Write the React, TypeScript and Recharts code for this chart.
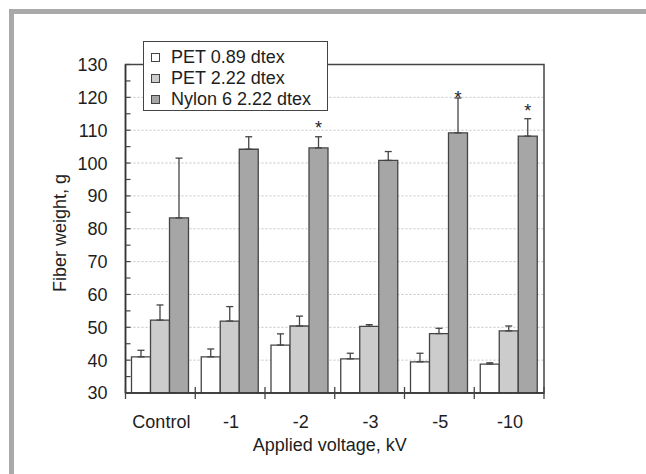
import React from 'react';
import { BarChart, Bar, XAxis, YAxis, CartesianGrid, ErrorBar, Legend, LabelList, ReferenceArea, Label } from 'recharts';

const categories = ['Control', '-1', '-2', '-3', '-5', '-10'];
const pet089 = [41.0, 41.0, 44.6, 40.4, 39.5, 38.8];
const pet089Err = [2.0, 2.4, 3.4, 1.7, 2.6, 0.4];
const pet222 = [52.2, 51.9, 50.4, 50.3, 48.1, 48.9];
const pet222Err = [4.6, 4.4, 3.0, 0.5, 1.6, 1.5];
const nylon = [83.3, 104.2, 104.6, 100.8, 109.2, 108.2];
const nylonErr = [18.2, 3.8, 3.4, 2.7, 10.6, 5.3];
const starLevel: (number | null)[] = [null, null, 111.8, null, 121.0, 117.0];

const yTicks = [30, 35, 40, 45, 50, 55, 60, 65, 70, 75, 80, 85, 90, 95, 100, 105, 110, 115, 120, 125, 130];
const gridValues = [40, 50, 60, 70, 80, 90, 100, 110, 120];

const seriesNames = ['PET 0.89 dtex', 'PET 2.22 dtex', 'Nylon 6 2.22 dtex'];
const seriesColors = ['#ffffff', '#cccccc', '#a6a6a6'];

const data = categories.map((c, i) => ({
  name: c,
  a: pet089[i],
  aErr: [0, pet089Err[i]],
  b: pet222[i],
  bErr: [0, pet222Err[i]],
  c: nylon[i],
  cErr: [0, nylonErr[i]],
  star: starLevel[i],
}));

const FONT = '"Liberation Sans", Arial, Helvetica, sans-serif';
const TEXT = '#1e1e1e';
const LINE = '#444';

const XTick = (props: any) => {
  const { x, y, payload, index, visibleTicksCount } = props;
  const off = payload.offset ?? 0;
  const left = payload.coordinate - off;
  const right = payload.coordinate + off;
  return (
    <g>
      <line x1={left} x2={left} y1={y - 6} y2={y + 6} stroke={LINE} strokeWidth={1.3} />
      {index === visibleTicksCount - 1 && (
        <line x1={right} x2={right} y1={y - 6} y2={y + 6} stroke={LINE} strokeWidth={1.3} />
      )}
      <text x={x + 1} y={y + 35} textAnchor="middle" fontFamily={FONT} fontSize={18} fill={TEXT}>
        {payload.value}
      </text>
    </g>
  );
};

const YTick = (props: any) => {
  const { x, y, payload } = props;
  const axisX = x + 18;
  const major = payload.value % 10 === 0;
  return (
    <g>
      <line x1={axisX} x2={axisX + 5} y1={y} y2={y} stroke={LINE} strokeWidth={1.2} />
      {major && (
        <text x={x} y={y} dy="0.36em" textAnchor="end" fontFamily={FONT} fontSize={18} fill={TEXT}>
          {payload.value}
        </text>
      )}
    </g>
  );
};

const StarLabel = (props: any) => {
  const { x, y, width, height, value, index } = props;
  if (value == null) return null;
  const v = nylon[index];
  const ppu = height / (v - 30);
  const sy = y - (value - v) * ppu;
  return (
    <text x={x + width / 2} y={sy + 10} textAnchor="middle" fontFamily={FONT} fontSize={18} fill={TEXT}>
      *
    </text>
  );
};

const LegendBox = (props: any) => {
  const payload = [...(props.payload || [])].sort(
    (p: any, q: any) => seriesNames.indexOf(p.value) - seriesNames.indexOf(q.value)
  );
  return (
    <div
      style={{
        boxSizing: 'border-box',
        width: 185,
        height: 70,
        border: `1.3px solid ${LINE}`,
        background: '#fff',
        paddingTop: 5,
        paddingLeft: 7,
        fontFamily: FONT,
        fontSize: 18,
        color: TEXT,
      }}
    >
      {payload.map((p: any, i: number) => (
        <div key={i} style={{ display: 'flex', alignItems: 'center', height: 21, lineHeight: '21px', whiteSpace: 'nowrap' }}>
          <span
            style={{
              display: 'inline-block',
              boxSizing: 'border-box',
              width: 9,
              height: 9,
              border: `1px solid ${LINE}`,
              background: p.color,
              marginRight: 11,
            }}
          />
          <span>{p.value}</span>
        </div>
      ))}
    </div>
  );
};

const YTitle = () => {
  const cx = 66;
  const cy = 233;
  return (
    <text x={cx} y={cy} transform={`rotate(-90 ${cx} ${cy})`} textAnchor="middle" fontFamily={FONT} fontSize={18} fill={TEXT}>
      Fiber weight, g
    </text>
  );
};

const XTitle = (props: any) => {
  const vb = props.viewBox || { x: 125.5, width: 418.5 };
  const cx = vb.x + vb.width / 2 - 5;
  return (
    <text x={cx} y={451} textAnchor="middle" fontFamily={FONT} fontSize={18} fill={TEXT}>
      Applied voltage, kV
    </text>
  );
};

export default function App() {
  return (
    <div style={{ position: 'fixed', left: 0, top: 0, width: 646, height: 474, background: '#fff', overflow: 'hidden' }}>
      <div style={{ position: 'absolute', left: 9, top: 9, width: 660, height: 5, background: '#a9a9a9' }} />
      <div style={{ position: 'absolute', left: 9, top: 9, width: 5, height: 480, background: '#a9a9a9' }} />
      <div style={{ position: 'absolute', left: 0, top: 0 }}>
        <BarChart
          width={646}
          height={474}
          data={data}
          margin={{ top: 64.5, right: 102, left: 65.5, bottom: 41 }}
          barCategoryGap={6}
          barGap={0}
        >
          <CartesianGrid vertical={false} horizontalValues={gridValues} stroke="#c4c4c4" strokeDasharray="2 2" />
          <XAxis
            dataKey="name"
            height={40}
            tick={<XTick />}
            tickLine={false}
            tickSize={0}
            tickMargin={0}
            axisLine={{ stroke: '#333', strokeWidth: 1.5 }}
            interval={0}
          >
            <Label content={<XTitle />} />
          </XAxis>
          <YAxis
            width={60}
            domain={[30, 130]}
            ticks={yTicks}
            interval={0}
            allowDataOverflow
            tick={<YTick />}
            tickLine={false}
            tickSize={0}
            tickMargin={18}
            axisLine={{ stroke: '#333', strokeWidth: 1.5 }}
          >
            <Label content={<YTitle />} />
          </YAxis>
          <ReferenceArea y1={30} y2={130} fill="none" stroke={LINE} strokeWidth={1.5} />
          <Legend
            layout="vertical"
            align="center"
            verticalAlign="middle"
            content={<LegendBox />}
            wrapperStyle={{ position: 'absolute', left: 143, top: 41, width: 185, height: 70 }}
          />
          <Bar dataKey="a" name={seriesNames[0]} fill={seriesColors[0]} stroke={LINE} strokeWidth={1.3} isAnimationActive={false}>
            <ErrorBar dataKey="aErr" width={3.5} stroke={LINE} strokeWidth={1.3} direction="y" />
          </Bar>
          <Bar dataKey="b" name={seriesNames[1]} fill={seriesColors[1]} stroke={LINE} strokeWidth={1.3} isAnimationActive={false}>
            <ErrorBar dataKey="bErr" width={3.5} stroke={LINE} strokeWidth={1.3} direction="y" />
          </Bar>
          <Bar dataKey="c" name={seriesNames[2]} fill={seriesColors[2]} stroke={LINE} strokeWidth={1.3} isAnimationActive={false}>
            <ErrorBar dataKey="cErr" width={3.5} stroke={LINE} strokeWidth={1.3} direction="y" />
            <LabelList dataKey="star" content={<StarLabel />} />
          </Bar>
        </BarChart>
      </div>
    </div>
  );
}
